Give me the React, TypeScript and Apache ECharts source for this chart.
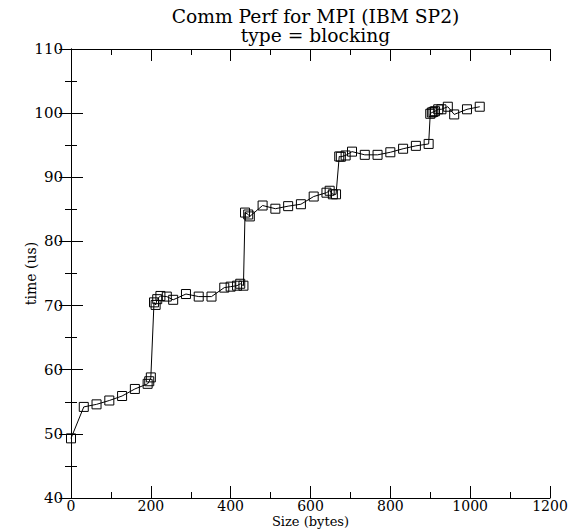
import React, { useEffect, useRef } from "react";
import * as echarts from "echarts";

const sizes = [
  0, 32, 64, 96, 128, 160, 192, 196, 200, 208, 212, 216, 224, 240, 256, 288, 320, 352, 384, 400,
  416, 424, 432, 436, 444, 448, 480, 512, 544, 576, 608, 640, 648, 656, 664, 672, 676, 688, 704,
  736, 768, 800, 832, 864, 896, 900, 904, 908, 912, 920, 928, 944, 960, 992, 1024,
];
const times = [
  49.3, 54.2, 54.6, 55.2, 55.9, 57.0, 57.8, 58.2, 58.8, 70.5, 70.1, 71.0, 71.5, 71.4, 70.9, 71.8,
  71.4, 71.4, 72.8, 72.95, 73.1, 73.4, 73.1, 84.5, 84.2, 83.9, 85.6, 85.1, 85.5, 85.8, 87.0, 87.6,
  87.9, 87.35, 87.35, 93.25, 93.2, 93.4, 94.0, 93.5, 93.5, 93.9, 94.45, 94.9, 95.2, 99.9, 100.1,
  100.2, 100.3, 100.6, 100.6, 101.0, 99.8, 100.6, 101.0,
];
const titleLines = ["Comm Perf for MPI (IBM SP2)", "type = blocking"];
const xName = "Size (bytes)";
const yName = "time (us)";

const FONT = "DejaVu Serif";
const W = 570;
const H = 529;

export default function App() {
  const ref = useRef<HTMLDivElement>(null);
  useEffect(() => {
    document.body.style.margin = "0";
    if (!ref.current) return;
    const chart = echarts.init(ref.current, undefined, { renderer: "svg", width: W, height: H });
    const tickCommon = {
      axisLine: { show: true, lineStyle: { color: "#000", width: 1 } },
      axisTick: { show: true, inside: true, length: 12, lineStyle: { color: "#000", width: 1 } },
      minorTick: { show: true, splitNumber: 2, length: 6, lineStyle: { color: "#000", width: 1 } },
      splitLine: { show: false },
      minorSplitLine: { show: false },
    };
    const labelStyle = { color: "#000", fontFamily: FONT, fontSize: 15 };
    chart.setOption({
      animation: false,
      backgroundColor: "#fff",
      title: {
        text: titleLines.join("\n"),
        left: 310.5,
        textAlign: "center",
        top: 2,
        textStyle: { color: "#000", fontFamily: FONT, fontSize: 18.7, fontWeight: "normal", lineHeight: 19 },
      },
      grid: { left: 71, right: 20, top: 49, bottom: 31, containLabel: false, outerBoundsMode: "none" },
      xAxis: [
        {
          type: "value",
          position: "bottom",
          min: 0,
          max: 1200,
          interval: 200,
          ...tickCommon,
          axisLabel: { ...labelStyle, fontSize: 14, lineHeight: 13, margin: 1, formatter: (v: number) => String(v) },
          name: xName,
          nameLocation: "middle",
          nameGap: 17,
          nameMoveOverlap: false,
          nameTextStyle: { ...labelStyle, fontSize: 13, lineHeight: 13 },
        },
        {
          type: "value",
          position: "top",
          min: 0,
          max: 1200,
          interval: 200,
          ...tickCommon,
          axisLabel: { show: false },
        },
      ],
      yAxis: [
        {
          type: "value",
          position: "left",
          min: 40,
          max: 110,
          interval: 10,
          ...tickCommon,
          axisLabel: { ...labelStyle, margin: 8, formatter: (v: number) => String(v) },
          name: yName,
          nameLocation: "middle",
          nameGap: 33,
          nameMoveOverlap: false,
          nameTextStyle: { ...labelStyle, fontSize: 14 },
        },
        {
          type: "value",
          position: "right",
          min: 40,
          max: 110,
          interval: 10,
          ...tickCommon,
          axisLabel: { show: false },
        },
      ],
      series: [
        {
          type: "line",
          xAxisIndex: 0,
          yAxisIndex: 0,
          data: sizes.map((s, i) => [s, times[i]]),
          symbol: "rect",
          symbolSize: 9,
          itemStyle: { color: "rgba(0,0,0,0)", borderColor: "#000", borderWidth: 1 },
          lineStyle: { color: "#000", width: 1 },
          emphasis: { disabled: true },
        },
      ],
    });
    return () => chart.dispose();
  }, []);
  return <div ref={ref} style={{ position: "absolute", left: 0, top: 0, width: W, height: H }} />;
}
